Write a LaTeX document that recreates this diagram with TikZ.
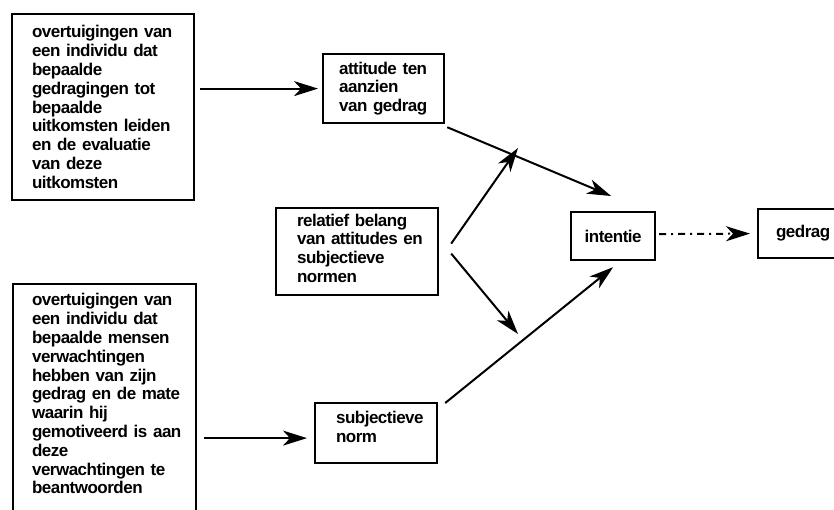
\documentclass[tikz,border=0pt]{standalone}
\usepackage{fontspec}
\setmainfont{Liberation Sans}[LetterSpace=-3]
\usetikzlibrary{arrows.meta,calc}
\newcommand\diagfont{\fontsize{17}{18.8}\selectfont\bfseries\hyphenpenalty=10000 }
% extra space below the last line, to sit the text a little higher in its box
\newcommand\tailspace[1]{\\[#1]\rule{0pt}{0pt}}
\begin{document}
\begin{tikzpicture}[x=1pt,y=-1pt,
  boxnode/.style={draw, line width=2.2pt, rectangle, align=left, font=\diagfont,
    anchor=north west, inner ysep=0pt, inner xsep=4pt},
  textindent/.style={execute at begin node={\leftskip=#1\relax},
    execute at end node={\endgraf}},
  flow/.style={line width=2pt, -{Stealth[length=24pt,width=15pt,inset=7pt]}},
  dashflow/.style={flow, dash pattern=on 7pt off 5pt on 2pt off 5pt}]
\useasboundingbox (0,0) rectangle (834,509);
\clip (0,0) rectangle (834,509);

% beliefs about outcomes
\node[boxnode, textindent=16pt, text width=174pt, minimum height=186pt] (b1) at (11,13)
  {overtuigingen van\\een individu dat\\bepaalde\\gedragingen tot\\bepaalde\\uitkomsten leiden\\en de evaluatie\\van deze\\uitkomsten};
% normative beliefs (box runs on past the lower edge)
\node[boxnode, textindent=15pt, text width=175pt, minimum height=232pt] (b2) at (12,283)
  {overtuigingen van\\een individu dat\\bepaalde mensen\\verwachtingen\\hebben van zijn\\gedrag en de mate\\waarin hij\\gemotiveerd is aan\\deze\\verwachtingen te\\beantwoorden\tailspace{-6pt}};

\node[boxnode, textindent=12pt, text width=113pt, minimum height=69pt] (att) at (322,53)
  {attitude ten\\aanzien\\van gedrag};
\node[boxnode, textindent=17pt, text width=154pt, minimum height=87pt] (rel) at (275,207)
  {relatief belang\\van attitudes en\\subjectieve\\normen\tailspace{-12pt}};
\node[boxnode, textindent=17pt, text width=114pt, minimum height=60pt] (sn) at (314,402)
  {subjectieve\\norm\tailspace{-7pt}};
\node[boxnode, align=center, minimum width=84pt, minimum height=48pt] (int) at (570,211)
  {intentie};
\node[boxnode, textindent=14pt, text width=100pt, minimum height=49pt] (ged) at (757,208)
  {gedrag};

\coordinate (upTip) at (518,148);
\coordinate (downTip) at (518,334);

\draw[flow] ($(b1.east |- att.west)+(5,0)$) -- ($(att.west)+(-4,0)$);
\draw[flow] ($(b2.east |- sn.west)+(7,5)$) -- ($(sn.west)+(-7,5)$);
\draw[flow] ($(att.south east)+(2,3)$) -- ($(int.north)+(-2,-15)$);
\draw[flow] ($(rel.east)+(12,-8)$) -- (upTip);
\draw[flow] ($(rel.east)+(12,2)$) -- (downTip);
\draw[flow] ($(sn.north east)+(7,1)$) -- ($(int.south)+(0,6)$);
\draw[dashflow] ($(int.east)+(3,-2)$) -- ($(ged.west)+(-7,0)$);
\end{tikzpicture}
\end{document}
